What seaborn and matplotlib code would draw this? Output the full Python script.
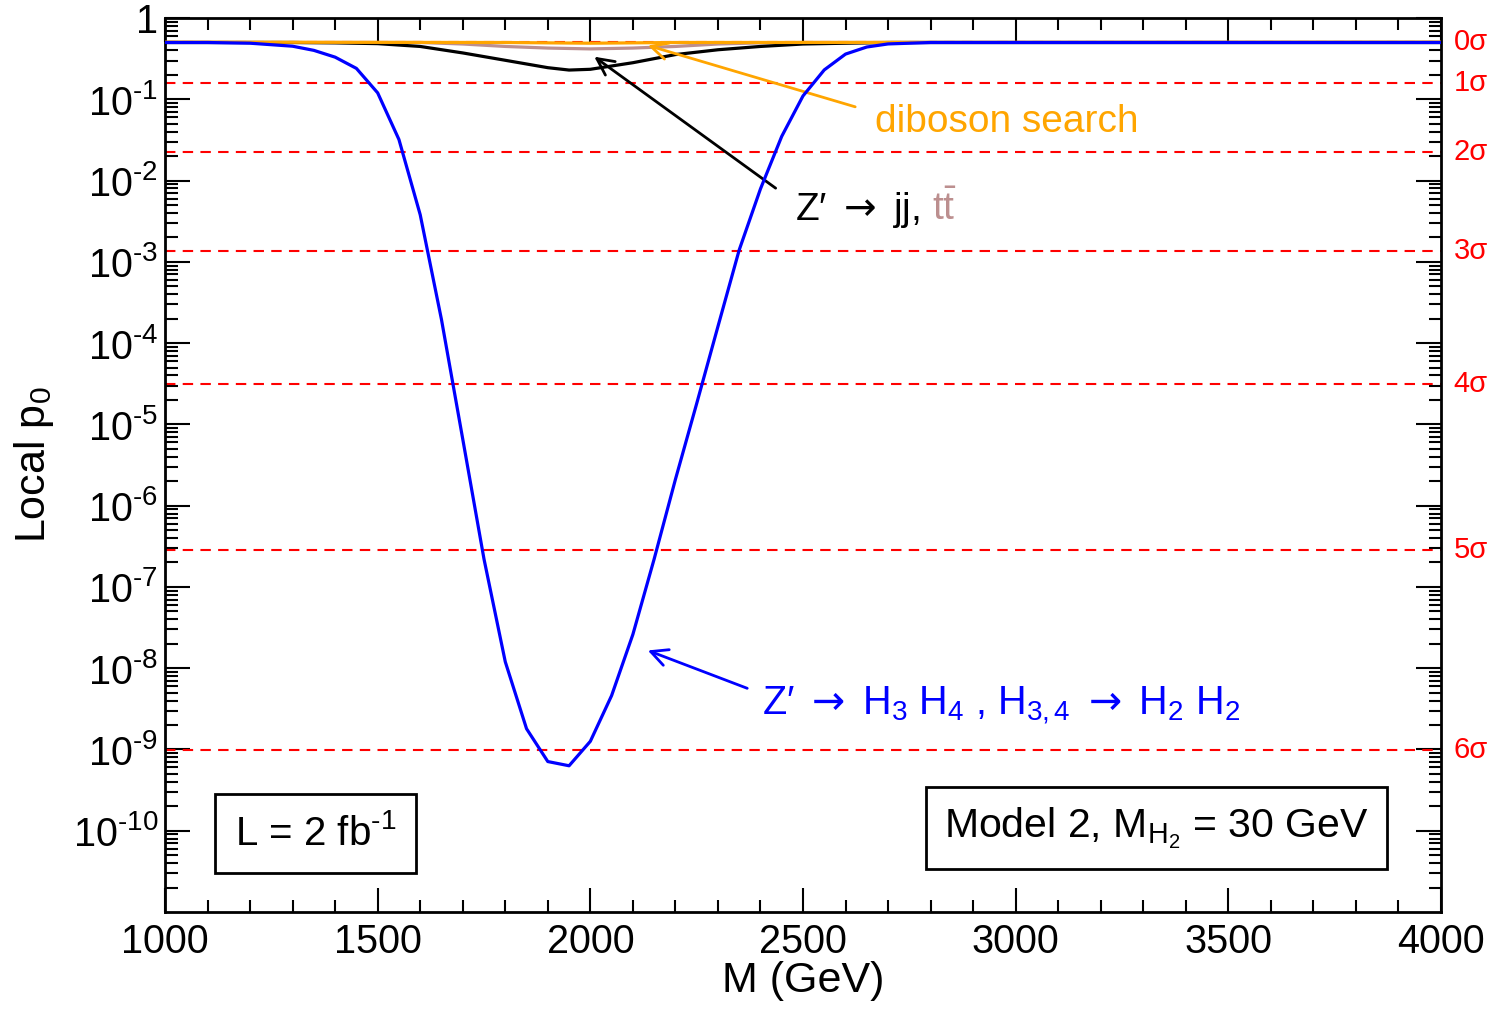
import numpy as np
import pandas as pd
import matplotlib
matplotlib.use('Agg')
import matplotlib.pyplot as plt
import matplotlib.ticker as mticker
import matplotlib.transforms as mtransforms
import seaborn as sns

sns.set_theme(style='ticks')
plt.rcParams['font.family'] = ['Liberation Sans', 'DejaVu Sans']
plt.rcParams['text.color'] = 'black'
plt.rcParams['axes.labelcolor'] = 'black'
plt.rcParams['xtick.color'] = 'black'
plt.rcParams['ytick.color'] = 'black'
plt.rcParams['mathtext.fontset'] = 'custom'
plt.rcParams['mathtext.rm'] = 'Liberation Sans'
plt.rcParams['mathtext.it'] = 'Liberation Sans:italic'
plt.rcParams['mathtext.sf'] = 'DejaVu Sans'
plt.rcParams['mathtext.default'] = 'regular'

# Z' -> H3 H4, H3,4 -> H2 H2 (blue)
mass_hh = [1000, 1100, 1200, 1300, 1350, 1400, 1450, 1500, 1550, 1600, 1650,
           1700, 1750, 1800, 1850, 1900, 1950, 2000, 2050, 2100, 2150, 2200,
           2250, 2300, 2350, 2400, 2450, 2500, 2550, 2600, 2650, 2700, 2800,
           3000, 4000]
p_hh = [0.50, 0.50, 0.49, 0.45, 0.40, 0.33, 0.24, 0.12, 0.032, 3.8e-3, 1.95e-4,
        6.6e-6, 2.2e-7, 1.2e-8, 1.8e-9, 7.1e-10, 6.3e-10, 1.26e-9, 4.6e-9, 2.6e-8,
        2.2e-7, 2.1e-6, 1.8e-5, 1.6e-4, 1.4e-3, 7.9e-3, 0.035, 0.11, 0.23, 0.36,
        0.44, 0.48, 0.50, 0.50, 0.50]

# Z' -> jj (black)
mass_jj = [1000, 1300, 1400, 1500, 1600, 1700, 1800, 1900, 1950, 2000, 2100,
           2200, 2300, 2400, 2500, 2600, 2700, 2800, 4000]
p_jj = [0.50, 0.50, 0.495, 0.484, 0.447, 0.372, 0.302, 0.245, 0.229, 0.234,
        0.282, 0.355, 0.407, 0.447, 0.479, 0.490, 0.50, 0.50, 0.50]

# ttbar (brown)
mass_tt = [1000, 1600, 1700, 1800, 1900, 2000, 2100, 2200, 2300, 2400, 2500, 4000]
p_tt = [0.50, 0.50, 0.479, 0.447, 0.427, 0.417, 0.427, 0.447, 0.479, 0.495,
        0.50, 0.50]

# diboson search (orange)
mass_vv = [1000, 1800, 2000, 2200, 4000]
p_vv = [0.505, 0.50, 0.49, 0.50, 0.505]

sigma_labels = ['0σ', '1σ', '2σ', '3σ', '4σ', '5σ', '6σ']
sigma_p = [0.5, 0.1587, 0.02275, 1.35e-3, 3.17e-5, 2.87e-7, 9.87e-10]

ytick_vals = [1, 1e-1, 1e-2, 1e-3, 1e-4, 1e-5, 1e-6, 1e-7, 1e-8, 1e-9, 1e-10]
ytick_labels = ['1'] + [r'10$^{\text{-%d}}$' % i for i in range(1, 11)]
xtick_vals = [1000, 1500, 2000, 2500, 3000, 3500, 4000]

ARROW = r'$\mathsf{\rightarrow}$'
ZP = r'$\mathrm{Z}$′'

fig = plt.figure(figsize=(14.92, 10.13), dpi=100)
ax = fig.add_axes([0.1106, 0.0997, 0.8552, 0.8825])

# significance lines
for p in sigma_p:
    ax.axhline(p, color='red', lw=1.5, ls=(0, (5, 3.5)), zorder=1)

sns.lineplot(x=mass_tt, y=p_tt, ax=ax, color='#bc8f8f', lw=2.3, zorder=2)
sns.lineplot(x=mass_jj, y=p_jj, ax=ax, color='black', lw=2.3, zorder=3)
sns.lineplot(x=mass_vv, y=p_vv, ax=ax, color='orange', lw=2.3, zorder=4)
sns.lineplot(x=mass_hh, y=p_hh, ax=ax, color='blue', lw=2.3, zorder=5)

ax.set_yscale('log')
ax.set_xlim(1000, 4000)
ax.set_ylim(1e-11, 1)

ax.set_xticks(xtick_vals)
ax.set_xticklabels([str(v) for v in xtick_vals])
ax.xaxis.set_minor_locator(mticker.MultipleLocator(100))
ax.set_yticks(ytick_vals)
ax.set_yticklabels(ytick_labels)
ax.yaxis.set_minor_locator(mticker.LogLocator(base=10, subs=np.arange(2, 10), numticks=50))
ax.yaxis.set_minor_formatter(mticker.NullFormatter())

ax.tick_params(which='both', direction='in', top=True, right=True, width=1.5,
               color='black', labelsize=28.5, labelcolor='black')
ax.tick_params(axis='x', which='major', length=17, pad=8)
ax.tick_params(axis='x', which='minor', length=8.5)
ax.tick_params(axis='y', which='major', length=18, pad=5)
ax.tick_params(axis='y', which='minor', length=9)
for s in ax.spines.values():
    s.set_linewidth(2)
    s.set_color('black')

ax.set_xlabel('M (GeV)', fontsize=31, labelpad=0)
ax.set_ylabel('Local p$_0$', fontsize=31, labelpad=12)

# sigma labels on the right
trans = mtransforms.blended_transform_factory(ax.transAxes, ax.transData)
for lab, p in zip(sigma_labels, sigma_p):
    ax.text(1.010, p, lab, transform=trans, color='red', fontsize=21,
            ha='left', va='center')

# annotations
arrow_kw = dict(arrowstyle='->', lw=2, mutation_scale=30)
ax.annotate('', xy=(2129, 0.47), xytext=(2629, 0.079),
            arrowprops=dict(color='orange', **arrow_kw))
ax.text(2669, 0.053, 'diboson search', color='orange', fontsize=28,
        ha='left', va='center')

ax.annotate('', xy=(2004, 0.35), xytext=(2441, 7.7e-3),
            arrowprops=dict(color='black', **arrow_kw))
t = ax.text(2481, 4.4e-3, ZP + ' ' + ARROW + ' jj,', color='black', fontsize=28,
            ha='left', va='center')
fig.canvas.draw()
bb = t.get_window_extent()
x_end = ax.transData.inverted().transform((bb.x1 + 12, 0))[0]
ax.text(x_end, 4.4e-3, r'$t\bar{t}$', color='#bc8f8f', fontsize=28,
        ha='left', va='center')

ax.annotate('', xy=(2129, 1.7e-8), xytext=(2375, 5.5e-9),
            arrowprops=dict(color='blue', **arrow_kw))
ax.text(2404, 3.4e-9,
        ZP + ' ' + ARROW + ' H$_3$ H$_4$ , H$_{3,4}$ ' + ARROW + ' H$_2$ H$_2$',
        color='blue', fontsize=28.5, ha='left', va='center')

ax.text(0.118, 0.088, r'L = 2 fb$^{\text{-1}}$', transform=ax.transAxes, fontsize=29,
        ha='center', va='center',
        bbox=dict(boxstyle='square,pad=0.5', facecolor='white', edgecolor='black', lw=2))
ax.text(0.777, 0.094, 'Model 2, M$_{H_2}$ = 30 GeV', transform=ax.transAxes,
        fontsize=29.5, ha='center', va='center',
        bbox=dict(boxstyle='square,pad=0.45', facecolor='white', edgecolor='black', lw=2))

fig.savefig('out.png', dpi=100)
